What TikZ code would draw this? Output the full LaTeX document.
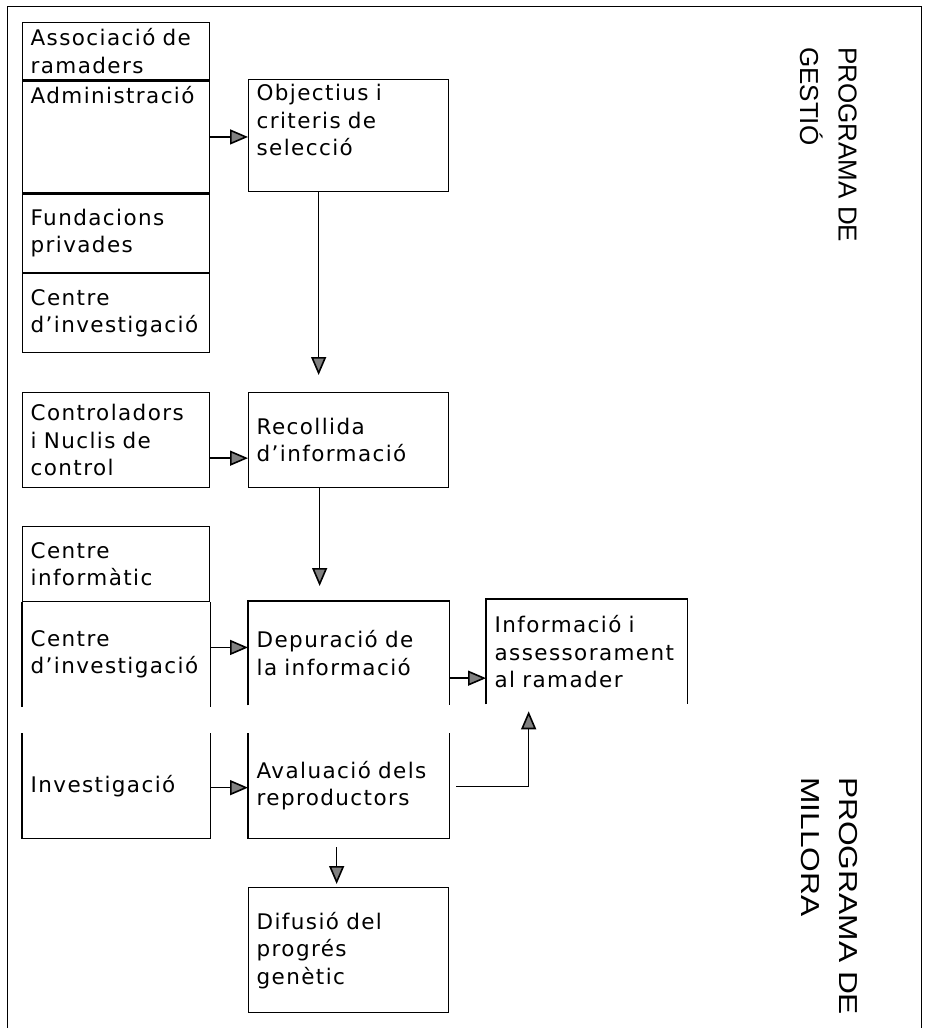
\documentclass[tikz,border=0pt]{standalone}
\usepackage{fontspec}
\newfontfamily\boxfont[LetterSpace=6.5]{DejaVu Sans}
\newfontfamily\progfont{Liberation Sans}
\usetikzlibrary{arrows.meta}

\tikzset{
  cell/.style={draw, line width=1.3pt, rectangle, anchor=north west, inner xsep=8pt,
    inner ysep=0pt, align=left, font=\boxfont\fontsize{21.5}{27.5}\selectfont},
  bare/.style={cell, draw=none},
  side/.style={line width=1.3pt},
  arr/.style={line width=1.6pt, -{Triangle[length=18pt,width=15pt,fill=black!50]}},
  prog/.style={anchor=north west, inner sep=0pt, rotate=-90, align=left,
    font=\progfont\fontsize{26}{38.5}\selectfont},
}

\begin{document}
\begin{tikzpicture}[x=1pt, y=-1pt]
\useasboundingbox (0,0) rectangle (926,1028);

% outer frame, open at the bottom
\coordinate (fbl) at (7,1028);
\coordinate (ftl) at (7,6);
\coordinate (ftr) at (921,6);
\coordinate (fbr) at (921,1028);
\draw[line width=1pt] (fbl) -- (ftl) -- (ftr) -- (fbr);

% left column
\node[cell, text width=171pt, minimum height=57pt] (asso) at (22,22) {Associació de\\ramaders};
\node[cell, text width=171pt, minimum height=112pt] (admi) at (asso.south west) {};
\node[bare, text width=171pt] (admitxt) at ([yshift=-5pt]admi.north west) {Administració};
\node[cell, text width=171pt, minimum height=78pt] (fund) at (admi.south west) {Fundacions\\privades};
\node[cell, text width=171pt, minimum height=79pt] (cent) at (fund.south west) {Centre\\d’investigació};

\node[cell, text width=171pt, minimum height=95pt] (ctrl) at (22,392) {Controladors\\i Nuclis de\\control};

\node[cell, text width=171pt, minimum height=75pt] (cinf) at (22,526) {Centre\\informàtic};
\node[bare, text width=171pt, minimum height=103pt] (cinv) at (cinf.south west) {Centre\\d’investigació};
\draw[side] (cinv.south west) -- (cinv.north west) (cinv.north east) -- (cinv.south east);

\node[bare, text width=171pt, minimum height=104pt] (inv) at (22,733) {Investigació};
\draw[side] (inv.north west) |- (inv.south east) -- (inv.north east);

% middle column
\node[cell, text width=184pt, minimum height=112pt] (obj) at (248,79) {};
\node[bare, text width=184pt] (objtxt) at ([yshift=-5pt]obj.north west) {Objectius i\\criteris de\\selecció};
\node[cell, text width=184pt, minimum height=95pt] (rec) at (248,392) {Recollida\\d’informació};
\node[bare, text width=184pt, minimum height=103pt] (dep) at (248,601) {Depuració de\\la informació};
\draw[side] (dep.south west) |- (dep.north east) -- (dep.south east);
\node[bare, text width=184pt, minimum height=104pt] (aval) at (248,733) {Avaluació dels\\reproductors};
\draw[side] (aval.north west) |- (aval.south east) -- (aval.north east);
\node[cell, text width=184pt, minimum height=125pt] (dif) at (248,887) {Difusió del\\progrés\\genètic};

% right box
\node[bare, text width=184pt, minimum height=104pt] (info) at (486,599) {Informació i\\assessorament\\al ramader};
\draw[side] (info.south west) |- (info.north east) -- (info.south east);

% arrows
\draw[arr] (admi.east) -- (admi.east -| obj.west);
\draw[arr] ([yshift=-18pt]ctrl.east) -- ([yshift=-18pt]rec.west);
\draw[arr] ([yshift=7pt]cinv.east) -- ([yshift=7pt]cinv.east -| dep.west);
\draw[arr] ([yshift=-2pt]inv.east) -- ([yshift=-2pt]aval.west);
\draw[arr] ([yshift=-25pt]dep.east) -- ([yshift=-25pt]dep.east -| info.west);
\draw[arr] ([xshift=-30pt]obj.south) -- ([xshift=-30pt,yshift=17pt]rec.north);
\draw[arr] ([xshift=-29pt]rec.south) -- ([xshift=-29pt,yshift=15pt]dep.north);
\draw[arr] ([xshift=-12pt,yshift=-9pt]aval.south) -- ([xshift=-12pt,yshift=3pt]dif.north);
\coordinate (avalout) at ([xshift=7pt,yshift=-1pt]aval.east);
\coordinate (infoin) at ([xshift=-58pt,yshift=-7pt]info.south);
\draw[arr] (avalout) -| (infoin);

% programme labels
\node[prog] (gestio) at (857,47) {PROGRAMA DE\\GESTIÓ};
\node[prog, xscale=1.22] (millora) at (858,777) {PROGRAMA DE\\MILLORA};
\end{tikzpicture}
\end{document}
